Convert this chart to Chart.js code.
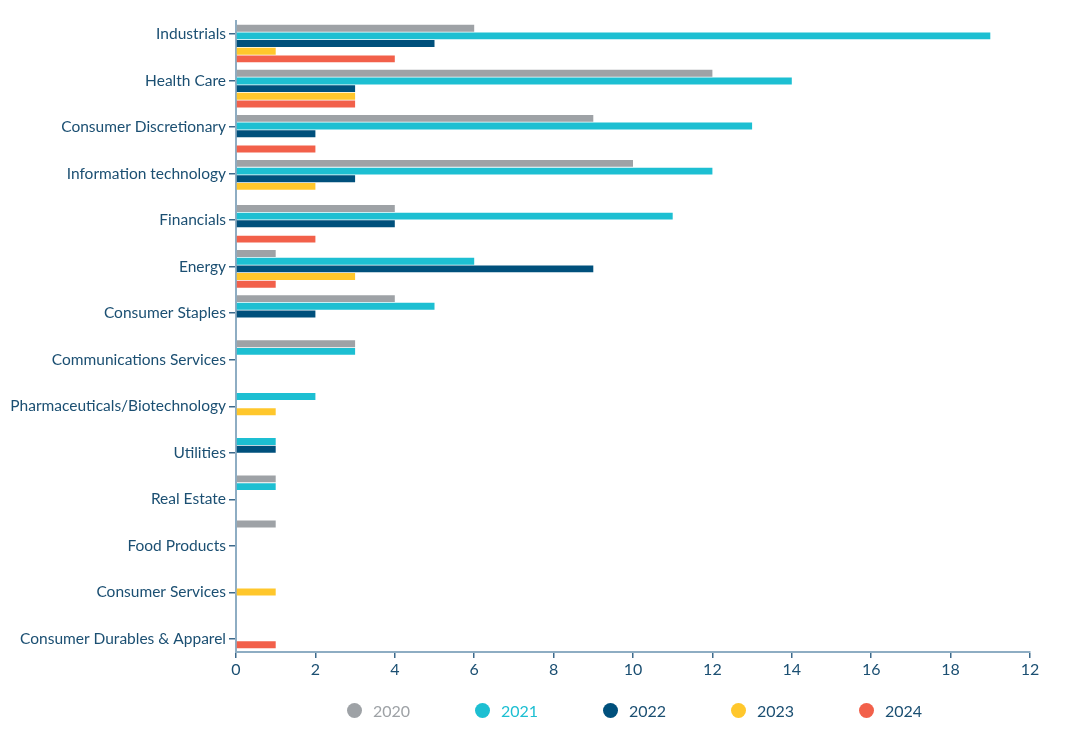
<!DOCTYPE html>
<html>
<head>
<meta charset="utf-8">
<script src="https://cdn.jsdelivr.net/npm/chart.js@4.4.1/dist/chart.umd.min.js"></script>
<style>
    body { margin: 0; background: #fff; }
    #wrap { position: relative; width: 1080px; height: 736px; }
    #legend { position: absolute; top: 701px; left: 347px; display: flex; font-family: Lato, sans-serif; font-size: 16px; }
    .item { width: 128px; display: flex; align-items: center; height: 18px; }
    .dot { width: 15px; height: 15px; border-radius: 50%; margin-right: 11px; }
</style>
</head>
<body>
<div id="wrap">
    <canvas id="content" width="1080" height="736"></canvas>
    <div id="legend"></div>
</div>
<script>
var categories = ["Industrials", "Health Care", "Consumer Discretionary", "Information technology",
    "Financials", "Energy", "Consumer Staples", "Communications Services",
    "Pharmaceuticals/Biotechnology", "Utilities", "Real Estate", "Food Products",
    "Consumer Services", "Consumer Durables & Apparel"];
var years = ["2020", "2021", "2022", "2023", "2024"];
var v2020 = [6, 12, 9, 10, 4, 1, 4, 3, 0, 0, 1, 1, 0, 0];
var v2021 = [19, 14, 13, 12, 11, 6, 5, 3, 2, 1, 1, 0, 0, 0];
var v2022 = [5, 3, 2, 3, 4, 9, 2, 0, 0, 1, 0, 0, 0, 0];
var v2023 = [1, 3, 0, 2, 0, 3, 0, 0, 1, 0, 0, 0, 1, 0];
var v2024 = [4, 3, 2, 0, 2, 1, 0, 0, 0, 0, 0, 0, 0, 1];
var xTickLabels = ["0", "2", "4", "6", "8", "10", "12", "14", "16", "18", "12"];

var colors = ["#9ea2a6", "#1dbfd2", "#00507c", "#ffc72c", "#f2604a"];
var legendText = ["#9ea2a6", "#1dbfd2", "#1b4f72", "#1b4f72", "#1b4f72"];
var ink = "#1b4f72";
var axisLine = "#8eadc3";
var tickMark = "#3d6a8c";

chart();

function chart() {
    var series = [v2020, v2021, v2022, v2023, v2024];
    var datasets = [];
    series.forEach(function (vals, i) {
        datasets.push({
            label: years[i],
            data: vals,
            backgroundColor: colors[i],
            borderWidth: 0,
            barPercentage: 0.9,
            categoryPercentage: 0.85
        });
    });

    var ctx = document.getElementById("content").getContext("2d");
    var c = new Chart(ctx, {
        type: 'bar',
        data: { labels: categories, datasets: datasets },
        options: {
            indexAxis: 'y',
            responsive: false,
            animation: false,
            layout: { padding: { top: 21, right: 50, bottom: 54, left: 0 } },
            plugins: { legend: { display: false }, tooltip: { enabled: false } },
            scales: {
                y: { type: 'category', display: false },
                // category names sit on their own evenly spread axis, as in the original
                names: {
                    type: 'linear',
                    axis: 'y',
                    position: 'left',
                    reverse: true,
                    offset: false,
                    min: -0.2793,
                    max: 13.279,
                    afterBuildTicks: function (axis) {
                        axis.ticks = categories.map(function (_, i) { return { value: i }; });
                    },
                    afterFit: function (axis) { axis.width = 236; },
                    grid: { drawOnChartArea: false, offset: false, color: tickMark, tickLength: 7, lineWidth: 1.5 },
                    border: { color: axisLine, width: 2 },
                    ticks: {
                        autoSkip: false,
                        padding: 3,
                        color: ink,
                        font: { family: 'Lato', size: 15.5 },
                        callback: function (v) { return categories[v]; }
                    }
                },
                x: {
                    min: 0,
                    max: 20,
                    afterFit: function (axis) { axis.height = 30; },
                    grid: { drawOnChartArea: false, color: tickMark, tickLength: 6, lineWidth: 1.5 },
                    border: { color: axisLine, width: 2 },
                    ticks: {
                        stepSize: 2,
                        padding: 2,
                        color: ink,
                        font: { family: 'Lato', size: 16 },
                        callback: function (v, i) { return xTickLabels[i]; }
                    }
                }
            }
        }
    });

    var legend = document.getElementById("legend");
    c.data.datasets.forEach(function (ds, i) {
        var item = document.createElement("div");
        item.className = "item";
        item.innerHTML = '<span class="dot" style="background:' + colors[i] + '"></span>' +
            '<span style="color:' + legendText[i] + '">' + ds.label + '</span>';
        legend.appendChild(item);
    });
}
</script>
</body>
</html>
